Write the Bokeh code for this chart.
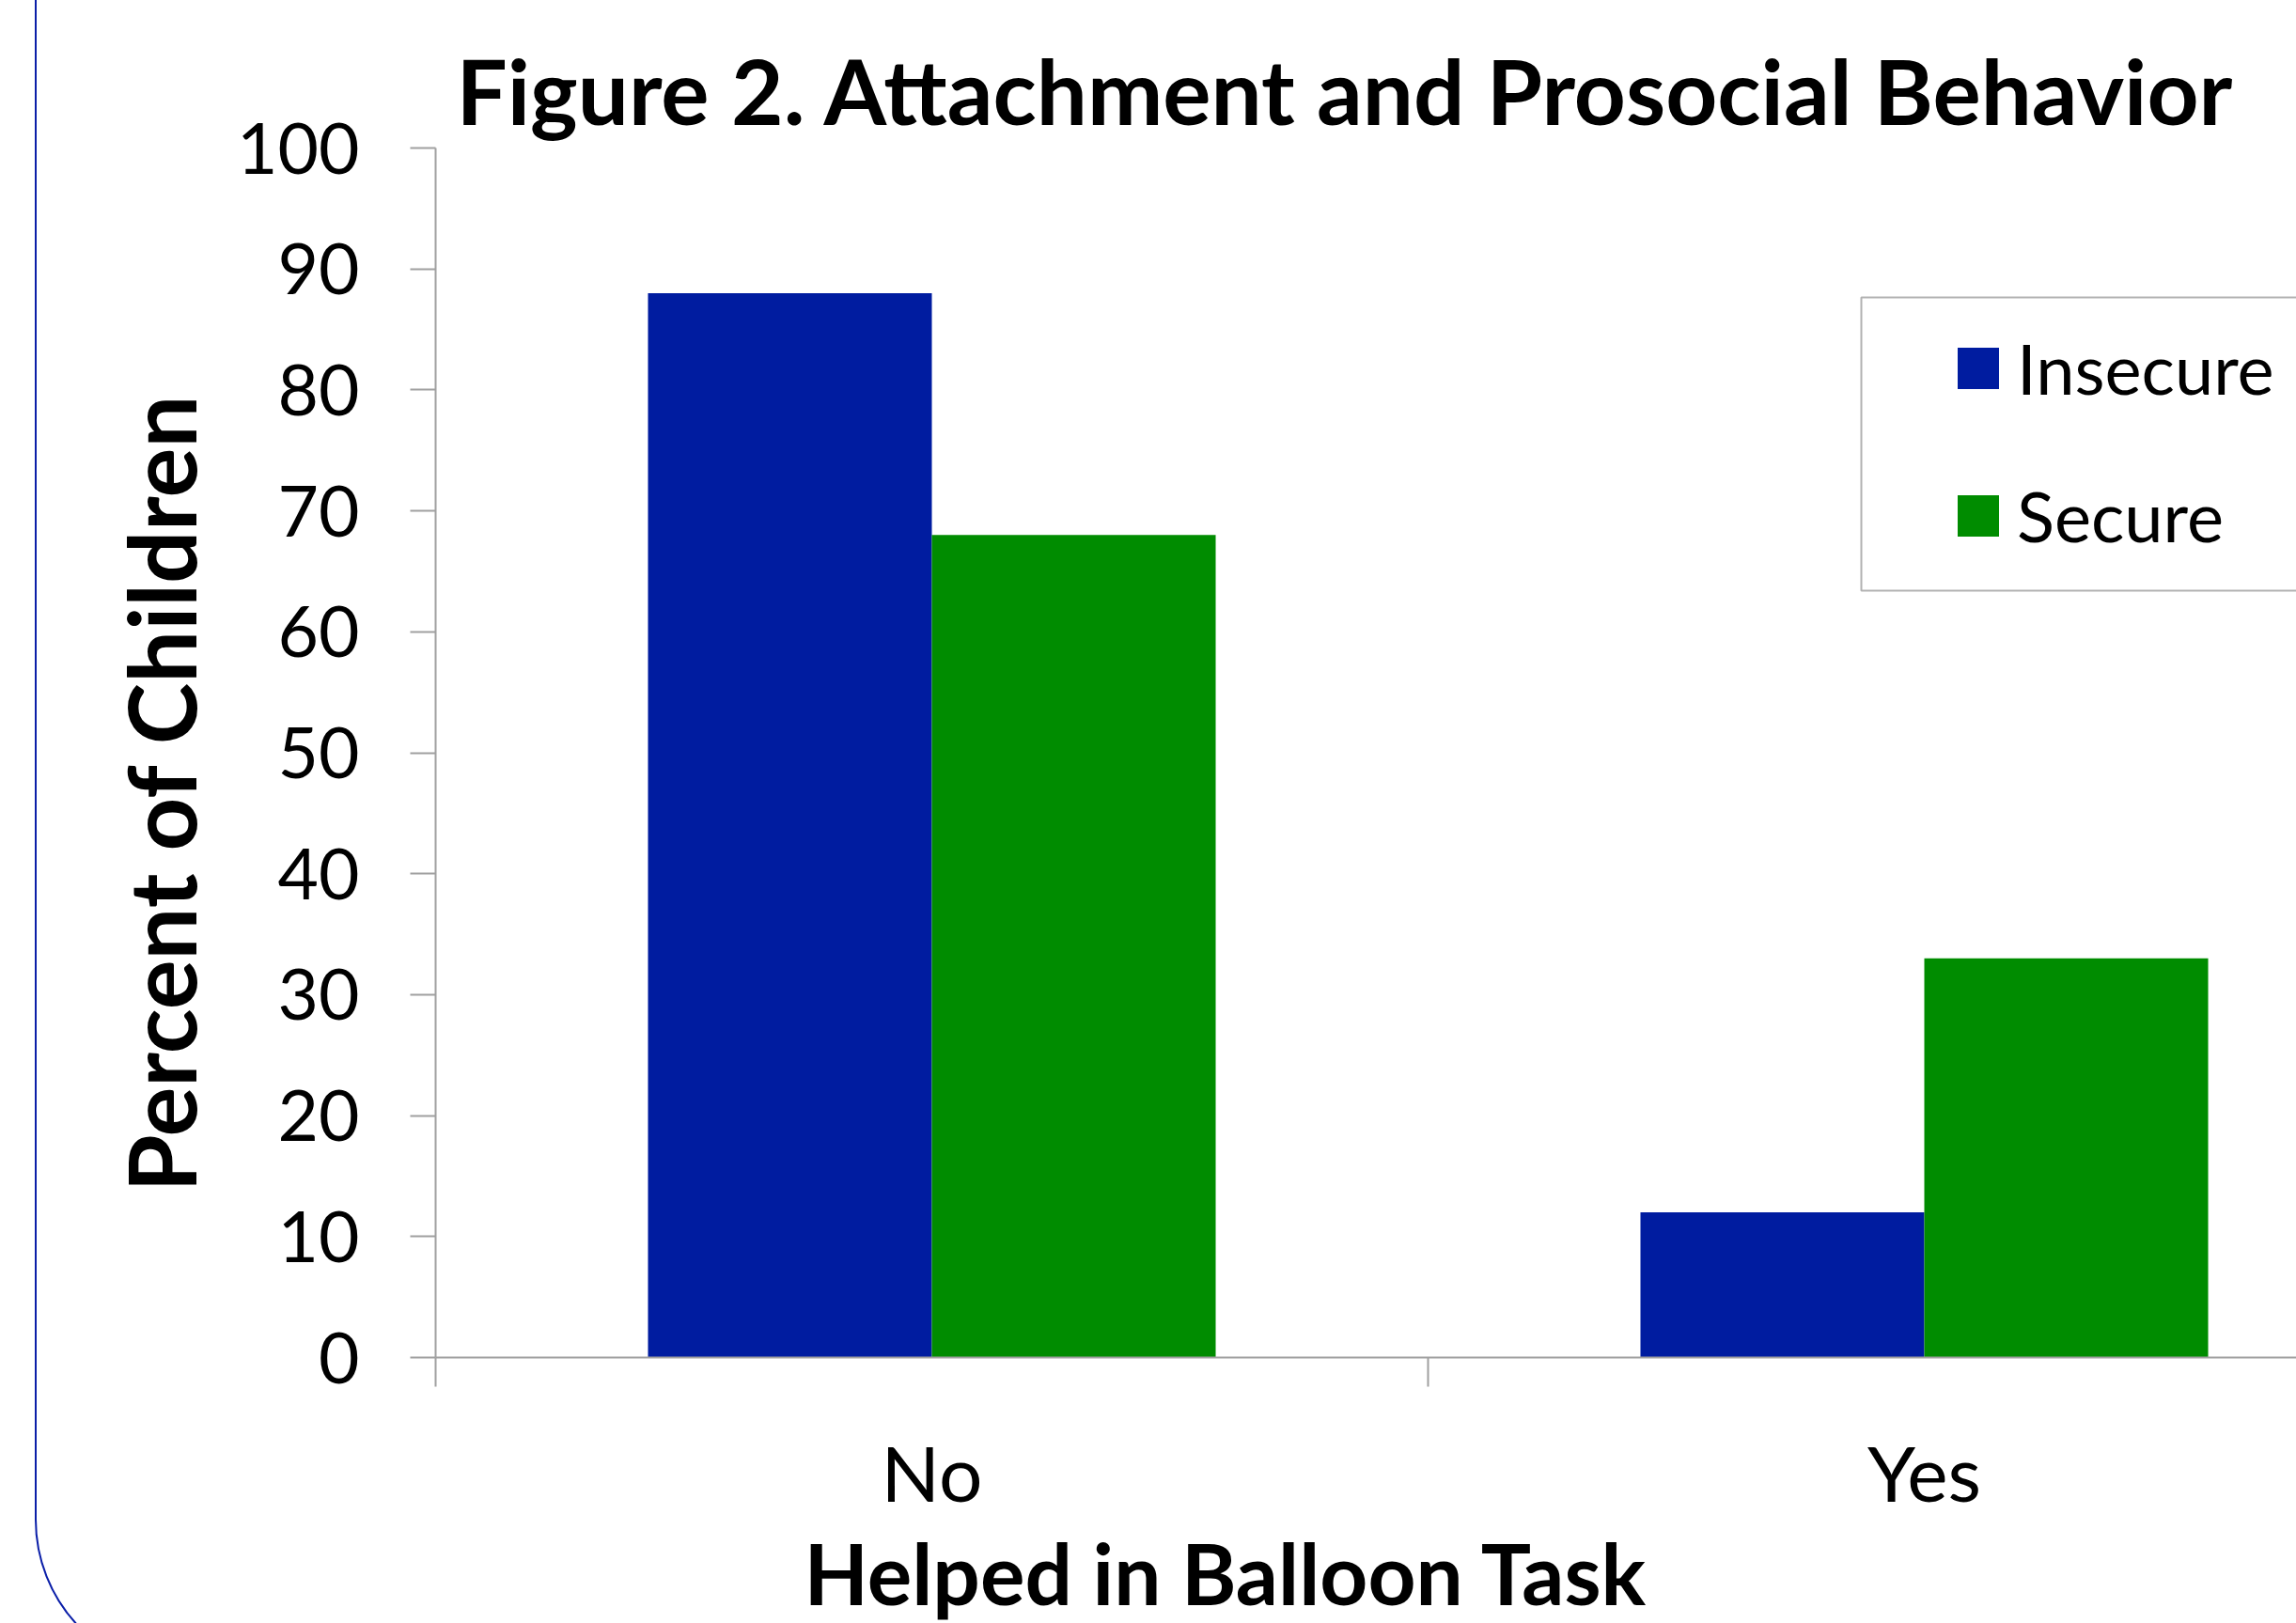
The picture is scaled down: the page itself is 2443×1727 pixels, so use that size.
from bokeh.plotting import figure
from bokeh.models import (Range1d, FixedTicker, Legend, LegendItem, Title,
                          BoxAnnotation, ColumnDataSource, InlineStyleSheet)
from bokeh.transform import dodge
from bokeh.embed import file_html
from bokeh.resources import INLINE

# ---- data ----
categories = ["No", "Yes"]
insecure = [88, 12]
secure = [68, 33]
series_names = ["Insecure", "Secure"]
y_ticks = [0, 10, 20, 30, 40, 50, 60, 70, 80, 90, 100]
title_text = "Figure 2. Attachment and Prosocial Behavior"
x_title = "Helped in Balloon Task"
y_title = "Percent of Children"

# ---- style ----
colors = ["#001ca0", "#008c00"]
FONT = "Lato"
AXIS_GRAY = "#a0a0a0"
W, H = 2443, 1727
CAT_PX = 1056          # pixel width of one category
FRAME_LEFT = 463
FRAME_TOP = 157
FRAME_BOTTOM = 1444

x_pos = [i + 0.5 for i in range(len(categories))]
src = ColumnDataSource(dict(x=x_pos, cat=categories, insecure=insecure, secure=secure))

x_end = (W - FRAME_LEFT) / CAT_PX
p = figure(width=W, height=H, output_backend="svg", toolbar_location=None,
           x_range=Range1d(0, x_end), y_range=Range1d(0, 100),
           min_border_left=FRAME_LEFT, min_border_top=FRAME_TOP,
           min_border_right=0, min_border_bottom=H - FRAME_BOTTOM)
p.background_fill_color = "white"
p.border_fill_color = "white"
p.outline_line_color = None
p.grid.grid_line_color = None

# slide border (decoration, drawn with CSS around the page)
p.stylesheets = [InlineStyleSheet(css="""
:host { overflow: hidden; }
:host::after { content: ""; position: absolute; left: 37px; top: -400px;
  width: 5000px; height: 2182px; border: 2px solid #0a1ea8;
  border-radius: 165px; box-sizing: border-box; pointer-events: none; z-index: 10; }
""")]

bw = 0.286
r1 = p.vbar(x=dodge("x", -bw / 2), top="insecure", width=bw, source=src,
            fill_color=colors[0], line_color=None)
r2 = p.vbar(x=dodge("x", bw / 2), top="secure", width=bw, source=src,
            fill_color=colors[1], line_color=None)

# title
p.title.text = title_text
p.title.align = "left"
p.title.offset = 22
p.title.text_font = FONT
p.title.text_font_style = "bold"
p.title.text_font_size = "96px"
p.title.text_color = "black"

# x axis
xa = p.xaxis[0]
xa.ticker = FixedTicker(ticks=x_pos, minor_ticks=[0, 1, 2])
xa.major_label_overrides = {x: c for x, c in zip(x_pos, categories)}
xa.major_tick_line_color = None
xa.major_tick_out = 0
xa.major_tick_in = 0
xa.minor_tick_out = 31
xa.minor_tick_in = 0
xa.minor_tick_line_color = AXIS_GRAY
xa.minor_tick_line_width = 2
xa.axis_line_color = AXIS_GRAY
xa.axis_line_width = 2
xa.major_label_text_font = FONT
xa.major_label_text_font_size = "82px"
xa.major_label_text_color = "black"
xa.major_label_standoff = 41

# y axis
ya = p.yaxis[0]
ya.ticker = FixedTicker(ticks=y_ticks)
ya.minor_tick_line_color = None
ya.major_tick_out = 27
ya.major_tick_in = 0
ya.major_tick_line_color = AXIS_GRAY
ya.major_tick_line_width = 2
ya.axis_line_color = AXIS_GRAY
ya.axis_line_width = 2
ya.major_label_text_font = FONT
ya.major_label_text_font_size = "75px"
ya.major_label_text_color = "black"
ya.major_label_standoff = 54

# axis titles
p.add_layout(Title(text=x_title, align="left", offset=392, text_font=FONT,
                   text_font_style="bold", text_font_size="89px",
                   text_color="black", standoff=0), "below")
p.add_layout(Title(text=y_title, align="left", offset=176, text_font=FONT,
                   text_font_style="bold", text_font_size="99px",
                   text_color="black", standoff=40), "left")

# legend frame (decoration)
p.add_layout(BoxAnnotation(left=1980, right=6000, top=316, bottom=628,
                           left_units="canvas", right_units="canvas",
                           top_units="canvas", bottom_units="canvas",
                           fill_color="white", line_color="black",
                           line_width=2, editable=False))

legend = Legend(items=[LegendItem(label=series_names[0], renderers=[r1]),
                       LegendItem(label=series_names[1], renderers=[r2])],
                location=(1614, 851), glyph_width=55, glyph_height=55,
                label_standoff=14, label_text_font=FONT,
                label_text_font_size="74px", label_text_color="black",
                padding=20, spacing=68, margin=0,
                border_line_color=None, background_fill_alpha=0)
p.add_layout(legend)

open("out.html", "w").write(file_html(p, INLINE))
